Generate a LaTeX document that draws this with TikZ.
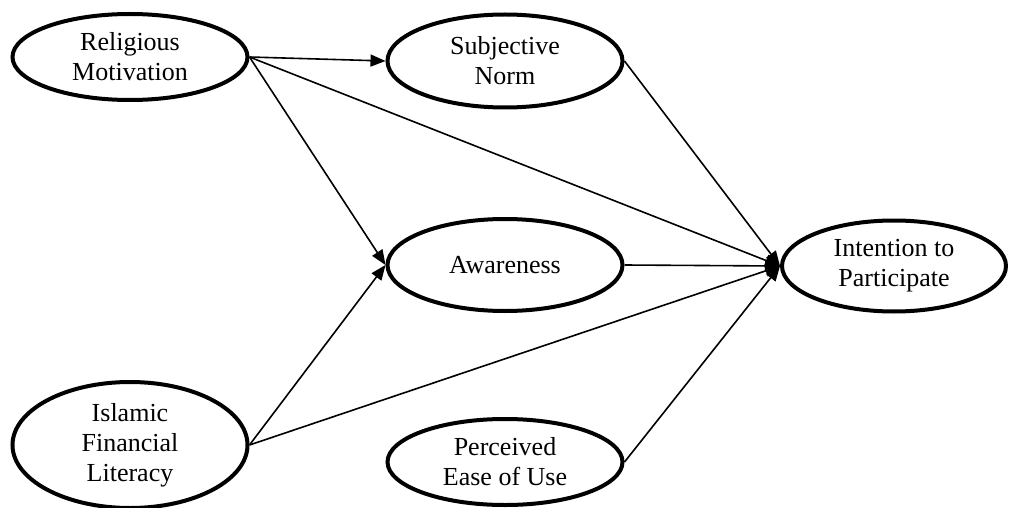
\documentclass[tikz,border=0pt]{standalone}
\usepackage{fontspec}
\setmainfont{Liberation Serif}
\usetikzlibrary{shapes.geometric,arrows.meta}
\begin{document}
\begin{tikzpicture}[x=1pt,y=-1pt,
  latent/.style={ellipse, draw, line width=4pt, inner sep=0pt, align=center,
    minimum width=235pt, font=\fontsize{26}{30}\selectfont},
  conn/.style={line width=1.6pt, -{Triangle[length=15pt,width=12pt]}}]
\useasboundingbox (0,0) rectangle (1009,508);
\node[latent, minimum height=86pt] (rm) at (130,57) {Religious\\Motivation};
\node[latent, minimum height=93pt] (sn) at (505,61) {Subjective\\Norm};
\node[latent, minimum height=92pt] (aw) at (505,265) {Awareness};
\node[latent, minimum height=91pt, minimum width=224pt] (ip) at (894,266) {Intention to\\Participate};
\node[latent, minimum height=126pt] (ifl) at (130,445) {Islamic\\Financial\\Literacy};
\node[latent, minimum height=86pt] (peu) at (505,462) {Perceived\\Ease of Use};
\draw[conn] (rm.east) -- (sn.west);
\draw[conn] (rm.east) -- (aw.west);
\draw[conn] (rm.east) -- (ip.west);
\draw[conn] (sn.east) -- (ip.west);
\draw[conn] (aw.east) -- (ip.west);
\draw[conn] (ifl.east) -- (aw.west);
\draw[conn] (ifl.east) -- (ip.west);
\draw[conn] (peu.east) -- (ip.west);
\end{tikzpicture}
\end{document}
